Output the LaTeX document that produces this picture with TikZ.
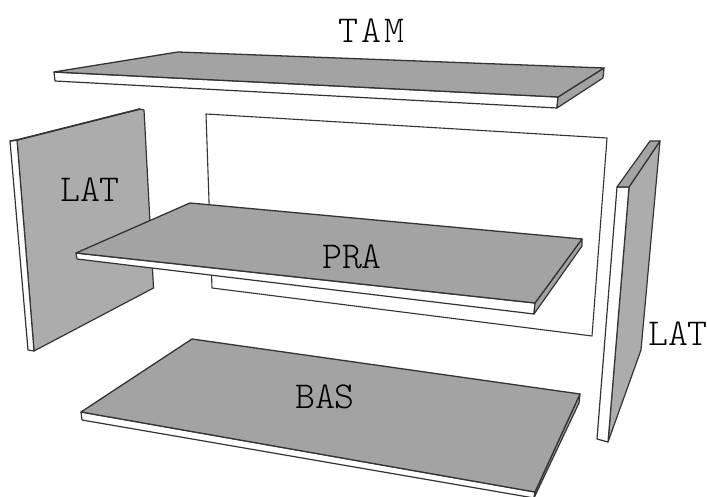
\documentclass[tikz,border=0pt]{standalone}
\tikzset{
  top/.style={fill=gray!72!white,draw=black!80,line width=1.3pt,line join=round},
  side/.style={fill=gray!72!white,draw=black!80,line width=1.2pt,line join=round},
  front/.style={fill=white,draw=black!80,line width=1.2pt,line join=round},
  back/.style={fill=white,draw=black!80,line width=1.1pt,line join=round},
  lab/.style={font=\ttfamily\fontseries{l}\fontsize{38}{38}\selectfont,text=black,inner sep=0pt}
}
\begin{document}
\begin{tikzpicture}[x=1pt,y=-1pt]
\useasboundingbox[fill=white] (0,0) rectangle (707,497);
% back panel
\draw[back] (206,114) -- (607,138) -- (592,336) -- (212,288) -- cycle;
% left side panel
\draw[side,fill=gray!65!white] (17,140) -- (140,109) -- (144,110) -- (153.5,288) -- (34,351) -- cycle;
\draw[front] (10,141) -- (17,140) -- (34,351) -- (28,350) -- cycle;
\draw[black!80,line width=1.6pt] (10,141) -- (17,140) -- (140,109);
% right side panel
\draw[side,fill=gray!65!white] (660,141) -- (641,350) -- (608,442) -- (629,187) -- cycle;
\draw[front] (617,187) -- (629,187) -- (608,442) -- (597,439) -- cycle;
\draw[side] (617,187) -- (650,141) -- (660,141) -- (629,187) -- cycle;
% top board
\draw[front] (54,72) -- (55,81) -- (557,108) -- (558,97) -- cycle;
\draw[side] (558,97) -- (604,68) -- (603,78) -- (557,108) -- cycle;
\draw[top] (54,72) -- (178,52) -- (604,68) -- (558,97) -- cycle;
% shelf
\draw[front] (76,253) -- (77,259) -- (534,314) -- (535,303) -- cycle;
\draw[side] (535,303) -- (582,239) -- (582,246) -- (534,314) -- cycle;
\draw[top] (76,253) -- (190,203) -- (582,239) -- (535,303) -- cycle;
% bottom board
\draw[front] (81,412) -- (82,420) -- (534,498) -- (535,492) -- cycle;
\draw[side] (535,492) -- (580,394) -- (579,403) -- (534,498) -- cycle;
\draw[top] (81,412) -- (192,339) -- (580,394) -- (535,492) -- cycle;
% labels
\node[lab] (tam) at (371.5,31) {T\kern3pt A\kern3pt M};
\node[lab] (latl) at (90,190) {LAT};
\node[lab] (pra) at (352,257) {PRA};
\node[lab] (bas) at (325,397) {BAS};
\node[lab] (latr) at (678,334) {LAT};
\end{tikzpicture}
\end{document}
